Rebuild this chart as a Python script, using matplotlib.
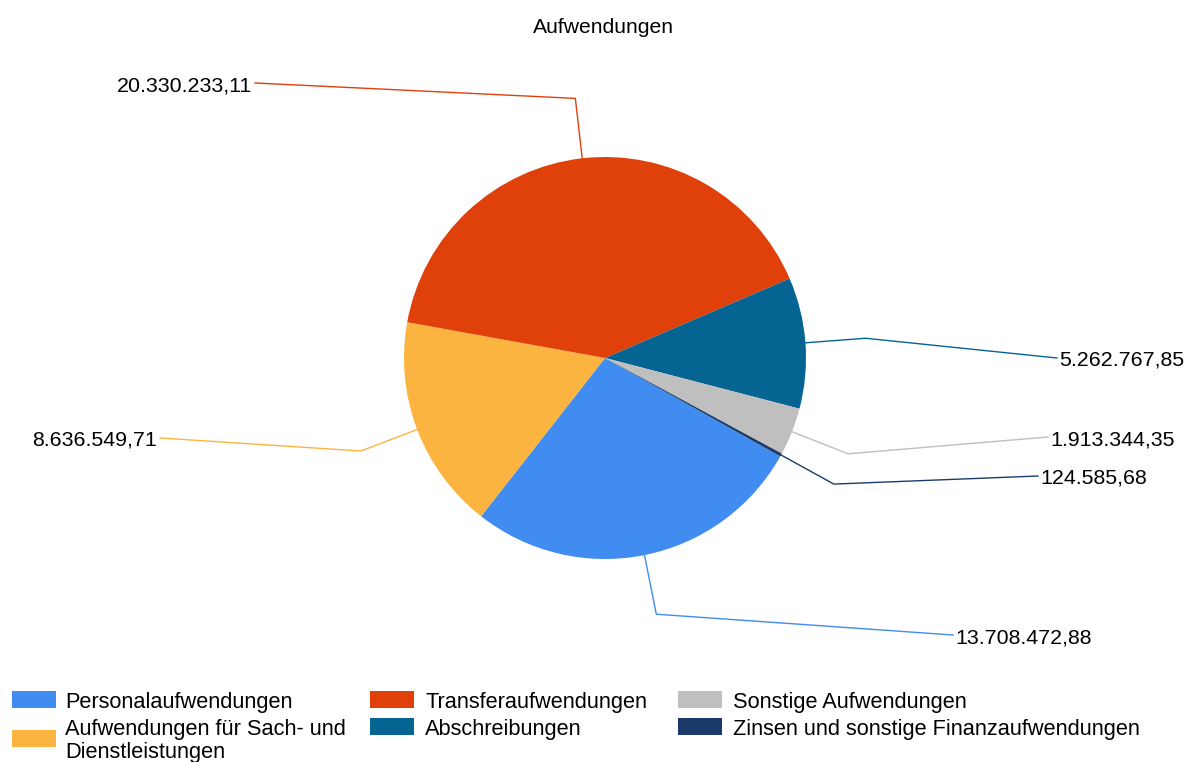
import numpy as np
import matplotlib
matplotlib.use("Agg")
import matplotlib.pyplot as plt
from matplotlib.patches import Rectangle

# Daten (Reihenfolge wie im Diagramm)
kategorien = [
    "Personalaufwendungen",
    "Aufwendungen für Sach- und\nDienstleistungen",
    "Transferaufwendungen",
    "Abschreibungen",
    "Sonstige Aufwendungen",
    "Zinsen und sonstige Finanzaufwendungen",
]
werte = [13708472.88, 8636549.71, 20330233.11, 5262767.85, 1913344.35, 124585.68]
farben = ["#418CF0", "#FCB441", "#E0400A", "#056492", "#BFBFBF", "#1A3B69"]

# Layout in Pixeln
W, H = 1197, 762
CX, CY, R = 605, 358, 201
# Endpunkte der Beschriftungslinien (Pixel)
label_xy = [(953, 635), (160, 438), (255, 83), (1057, 358), (1048, 437), (1038, 476)]


def format_de(v):
    s = f"{v:,.2f}"
    return s.replace(",", "X").replace(".", ",").replace("X", ".")


plt.rcParams["font.family"] = ["Liberation Sans", "DejaVu Sans"]
fig = plt.figure(figsize=(W / 100, H / 100), dpi=100)

ax = fig.add_axes([0, 0, 1, 1])
wedges, _ = ax.pie(
    werte,
    colors=farben,
    startangle=-29.3,
    counterclock=False,
    radius=1,
    wedgeprops=dict(linewidth=0),
)
ax.set_xlim(-CX / R, (W - CX) / R)
ax.set_ylim(-(H - CY) / R, CY / R)
ax.set_aspect("auto")
ax.axis("off")

ov = fig.add_axes([0, 0, 1, 1])
ov.set_xlim(0, W)
ov.set_ylim(H, 0)
ov.axis("off")

for w, wert, farbe, (lx, ly) in zip(wedges, werte, farben, label_xy):
    mitte = np.deg2rad((w.theta1 + w.theta2) / 2)
    p0 = (CX + R * np.cos(mitte), CY - R * np.sin(mitte))
    p1 = (CX + 1.3 * R * np.cos(mitte), CY - 1.3 * R * np.sin(mitte))
    ov.plot([p0[0], p1[0], lx], [p0[1], p1[1], ly], color=farbe, lw=1.0,
            solid_joinstyle="miter")
    links = lx < CX
    ov.text(lx + (-3 if links else 2), ly + 8, format_de(wert),
            ha="right" if links else "left", va="baseline", fontsize=15.4,
            color="black")

ov.text(W / 2 + 5, 33, "Aufwendungen", ha="center", va="baseline",
        fontsize=15.2, color="black")

# Legende (3 Spalten, spaltenweise gefüllt)
box_x = [12, 370, 678]
text_x = [65, 425, 733]
zeilen_baseline = [708, 735]
for i, (name, farbe) in enumerate(zip(kategorien, farben)):
    spalte, zeile = divmod(i, 2)
    zeilen = name.split("\n")
    basen = [zeilen_baseline[zeile] + 23 * k for k in range(len(zeilen))]
    mitte = np.mean(basen) - 8.5
    ov.add_patch(Rectangle((box_x[spalte], mitte - 8.5), 44, 17, color=farbe, lw=0))
    for z, b in zip(zeilen, basen):
        ov.text(text_x[spalte], b, z, ha="left", va="baseline", fontsize=15.7,
                color="black")

fig.savefig("out.png", dpi=100)
